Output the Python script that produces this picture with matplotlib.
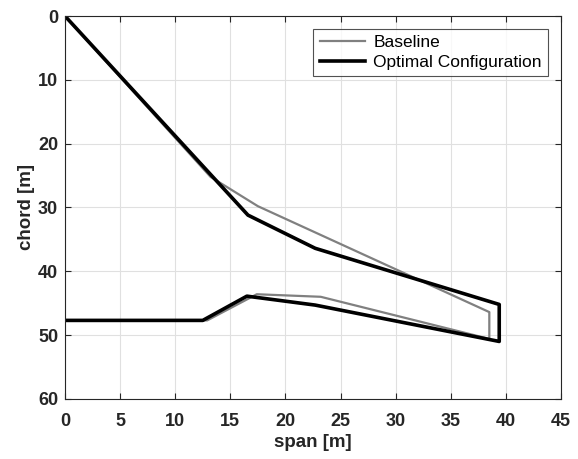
import matplotlib
matplotlib.use("Agg")
import matplotlib.pyplot as plt

plt.rcParams['font.family'] = ['Liberation Sans', 'DejaVu Sans']

baseline_span = [0, 13.2, 17.5, 38.5, 38.5, 23.2, 17.4, 12.9, 0]
baseline_chord = [0, 25.2, 29.8, 46.4, 50.6, 44.0, 43.6, 47.7, 47.7]
optimal_span = [0, 16.6, 22.7, 39.4, 39.4, 22.7, 16.5, 12.5, 0]
optimal_chord = [0, 31.2, 36.4, 45.2, 51.0, 45.3, 43.9, 47.7, 47.7]

xticks = [0, 5, 10, 15, 20, 25, 30, 35, 40, 45]
yticks = [0, 10, 20, 30, 40, 50, 60]

fig = plt.figure(figsize=(5.78, 4.59), dpi=100)
ax = fig.add_axes([0.1125, 0.131, 0.858, 0.834])

ax.plot(baseline_span, baseline_chord, color='#808080', lw=1.6, label='Baseline')
ax.plot(optimal_span, optimal_chord, color='black', lw=2.6, label='Optimal Configuration')

ax.set_xlim(0, 45)
ax.set_ylim(60, 0)
ax.set_xticks(xticks)
ax.set_yticks(yticks)
ax.grid(True, color='#e0e0e0', lw=0.8)
ax.set_axisbelow(True)
ax.tick_params(direction='in', top=True, right=True, length=4, width=0.8,
               colors='#262626', labelsize=13)
ax.tick_params(axis='x', pad=10)
ax.tick_params(axis='y', pad=5)
for lab in ax.get_xticklabels() + ax.get_yticklabels():
    lab.set_fontweight('bold')
for s in ax.spines.values():
    s.set_color('#262626')
    s.set_linewidth(0.8)

ax.set_xlabel('span [m]', fontsize=13.5, fontweight='bold', color='#262626', labelpad=3)
ax.set_ylabel('chord [m]', fontsize=13.5, fontweight='bold', color='#262626', labelpad=2)

leg = ax.legend(loc='upper right', fontsize=12.5, frameon=True, fancybox=False,
                edgecolor='#262626', borderaxespad=0.75, handlelength=2.6,
                borderpad=0.35, labelspacing=0.25, handletextpad=0.5)
leg.get_frame().set_linewidth(0.8)

fig.savefig('out.png', dpi=100)
